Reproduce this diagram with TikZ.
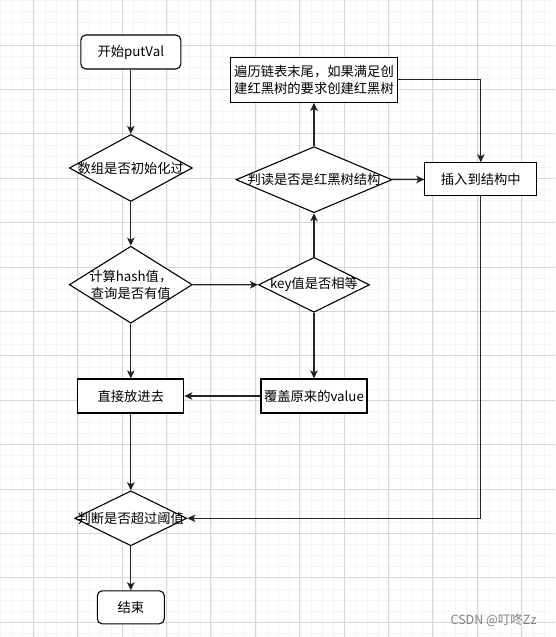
\documentclass[tikz,border=0pt]{standalone}
\usepackage{fontspec}
\setmainfont{Noto Sans CJK SC}
\usepackage{tikz}
\usetikzlibrary{arrows.meta}
\usetikzlibrary{shapes.geometric}
\definecolor{gridminor}{RGB}{244,244,244}
\definecolor{gridmajor}{RGB}{214,214,214}
\definecolor{linegray}{RGB}{35,35,35}

\begin{document}
\begin{tikzpicture}[x=1pt,y=-1pt,
    every node/.style={font=\fontsize{13.3}{16.5}\selectfont},
    box/.style={draw=black, line width=1.1pt, fill=white, inner sep=0pt, align=center},
    terminal/.style={box, rounded corners=5pt},
    decision/.style={diamond, draw=black, line width=1.1pt, fill=white, inner sep=0pt},
    flow/.style={-{Stealth[length=8pt,width=7.5pt,inset=2pt]}, draw=linegray, line width=1.3pt}]
    \useasboundingbox (0,0) rectangle (555,637);
    \clip (0,0) rectangle (555,637);
    \fill[white] (0,0) rectangle (555,637);
    % background grid
    \foreach \k in {0,...,50}
      \draw[gridminor, line width=1pt] (0.7+11.1*\k,0) -- (0.7+11.1*\k,637);
    \foreach \k in {0,...,57}
      \draw[gridminor, line width=1pt] (0,0.7+11.1*\k) -- (555,0.7+11.1*\k);
    \foreach \k in {0,...,12}
      \draw[gridmajor, line width=1pt] (33.3+44.4*\k,0) -- (33.3+44.4*\k,637);
    \foreach \k in {1,...,14}
      \draw[gridmajor, line width=1pt] (0,0.7+44.4*\k) -- (555,0.7+44.4*\k);

    \node[terminal, minimum width=100pt, minimum height=34pt] (A) at (130.8,52) {开始putVal};
    \node[decision, minimum width=123pt, minimum height=67pt, label=center:数组是否初始化过] (B) at (130.8,168) {};
    \node[decision, minimum width=123pt, minimum height=77pt, label={[align=center]center:计算hash值，\\查询是否有值}] (C) at (130.8,284.7) {};
    \node[decision, minimum width=111pt, minimum height=55pt, label=center:key值是否相等] (D) at (314,284.8) {};
    \node[decision, minimum width=156pt, minimum height=66pt, label=center:判读是否是红黑树结构] (E) at (314,179.7) {};
    \node[box, minimum width=167pt, minimum height=45pt] (F) at (314,79.8) {遍历链表末尾，如果满足创\\建红黑树的要求创建红黑树};
    \node[box, minimum width=112pt, minimum height=33pt] (G) at (480.8,179.3) {插入到结构中};
    \node[box, minimum width=106pt, minimum height=34pt] (H) at (314,396) {覆盖原来的value};
    \node[box, minimum width=106pt, minimum height=34pt] (I) at (130.8,396) {直接放进去};
    \node[decision, minimum width=112pt, minimum height=55pt, label=center:判断是否超过阈值] (K) at (130.8,518.3) {};
    \node[terminal, minimum width=67pt, minimum height=33pt] (L) at (130.8,607.3) {结束};
    \node[font=\fontsize{12.5}{14}\selectfont, text=gray, anchor=east] (W) at (540,620.7) {CSDN @叮咚Zz};

    \path [flow] (A) edge (B);
    \path [flow] (B) edge (C);
    \path [flow] (C) edge (D);
    \path [flow] (D) edge (E);
    \path [flow] (E) edge (F);
    \path [flow] (E) edge (G);
    \path [flow] (D) edge (H);
    \path [flow] (H) edge (I);
    \path [flow] (C) edge (I);
    \path [flow] (I) edge (K);
    \path [flow] (K) edge (L);
    \draw [flow] (F) -| (G);
    \draw [flow] (G) |- (K);
\end{tikzpicture}
\end{document}
